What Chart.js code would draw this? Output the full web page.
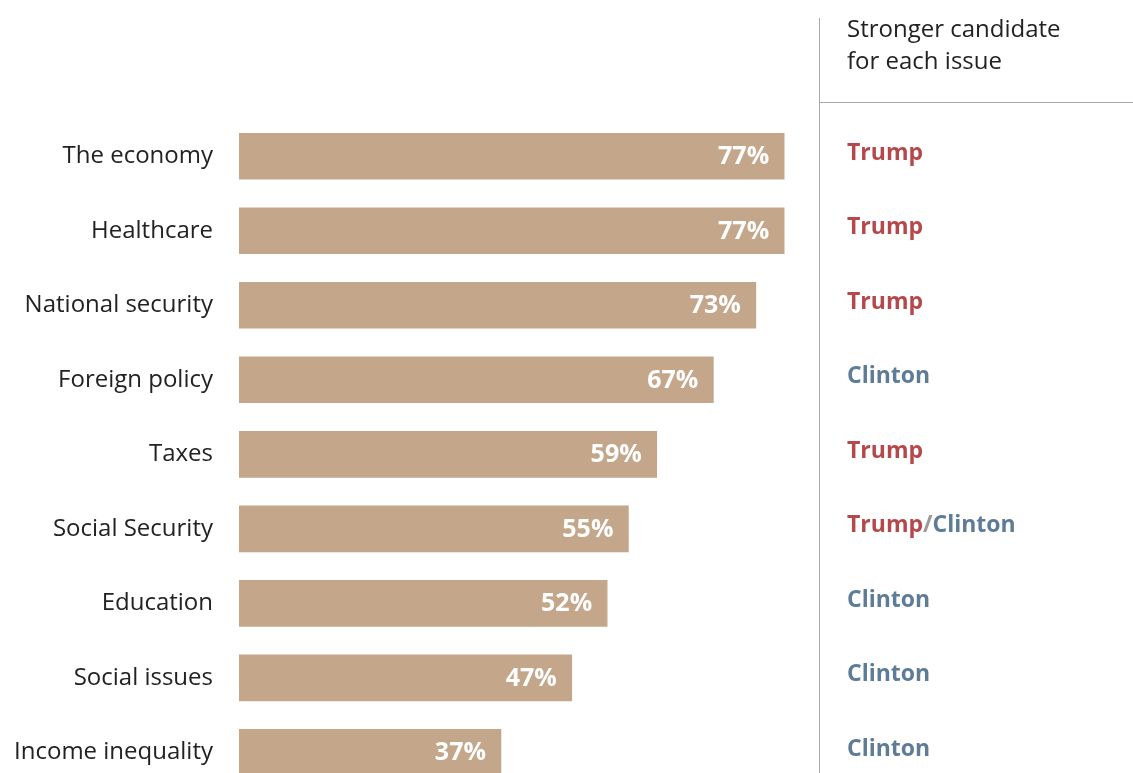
<!DOCTYPE html>
<html>
<head>
<meta charset="utf-8">
<title>Stronger candidate for each issue</title>
<script src="https://cdn.jsdelivr.net/npm/chart.js@4"></script>
<style>
  html, body { margin: 0; padding: 0; background: #fff; overflow: hidden; }
  canvas { display: block; }
</style>
</head>
<body>
<!-- taller than the window: the last row runs off the bottom edge -->
<canvas id="chart" width="1133" height="830"></canvas>
<script>
const issues = ['The economy', 'Healthcare', 'National security', 'Foreign policy', 'Taxes',
                'Social Security', 'Education', 'Social issues', 'Income inequality'];
const shares = [77, 77, 73, 67, 59, 55, 52, 47, 37];
const stronger = ['Trump', 'Trump', 'Trump', 'Clinton', 'Trump', 'Trump/Clinton', 'Clinton', 'Clinton', 'Clinton'];
const sideTitle = ['Stronger candidate', 'for each issue'];

const FONT = '"Open Sans", "Noto Sans", sans-serif';
const partyColors = { Trump: '#b5484a', Clinton: '#5e7c98' };

// white percentage inside the right end of each bar
const valueLabels = {
    id: 'valueLabels',
    afterDatasetsDraw(chart) {
        const c = chart.ctx;
        const meta = chart.getDatasetMeta(0);
        c.save();
        c.font = 'bold 25px ' + FONT;
        c.fillStyle = '#ffffff';
        c.textAlign = 'right';
        c.textBaseline = 'middle';
        meta.data.forEach((bar, i) => {
            c.fillText(shares[i] + '%', bar.x - 15, bar.y + 1);
        });
        c.restore();
    }
};

// divider, column heading and candidate names on the right
const sideColumn = {
    id: 'sideColumn',
    afterDraw(chart) {
        const c = chart.ctx;
        const y = chart.scales.y;
        const lineX = 819.5, textX = 847;
        c.save();
        c.strokeStyle = '#aaaaaa';
        c.lineWidth = 1;
        c.beginPath();
        c.moveTo(lineX, 18);
        c.lineTo(lineX, chart.height);
        c.moveTo(lineX, 102.5);
        c.lineTo(chart.width, 102.5);
        c.stroke();

        c.textBaseline = 'middle';
        c.textAlign = 'left';
        c.font = '24px ' + FONT;
        c.fillStyle = '#222222';
        sideTitle.forEach((t, i) => c.fillText(t, textX, 30 + i * 32));

        c.font = 'bold 23px ' + FONT;
        stronger.forEach((name, i) => {
            const ty = y.getPixelForValue(i) - 3;
            let x = textX;
            name.split('/').forEach((part, k) => {
                if (k > 0) {
                    c.fillStyle = '#999999';
                    c.fillText('/', x, ty);
                    x += c.measureText('/').width;
                }
                c.fillStyle = partyColors[part];
                c.fillText(part, x, ty);
                x += c.measureText(part).width;
            });
        });
        c.restore();
    }
};

new Chart(document.getElementById('chart'), {
    type: 'bar',
    data: {
        labels: issues,
        datasets: [{
            data: shares,
            backgroundColor: '#c4a68b',
            borderWidth: 0,
            barThickness: 46
        }]
    },
    options: {
        indexAxis: 'y',
        responsive: false,
        animation: false,
        layout: { padding: { top: 119, right: 186, bottom: 0, left: 0 } },
        plugins: {
            legend: { display: false },
            tooltip: { enabled: false }
        },
        scales: {
            x: {
                display: false,
                min: 0,
                max: 100
            },
            y: {
                afterFit(scale) { scale.width = 239; },
                border: { display: false },
                grid: { display: false, drawTicks: false },
                ticks: {
                    padding: 26,
                    color: '#222222',
                    font: { family: FONT, size: 24 }
                }
            }
        }
    },
    plugins: [valueLabels, sideColumn]
});
</script>
</body>
</html>
